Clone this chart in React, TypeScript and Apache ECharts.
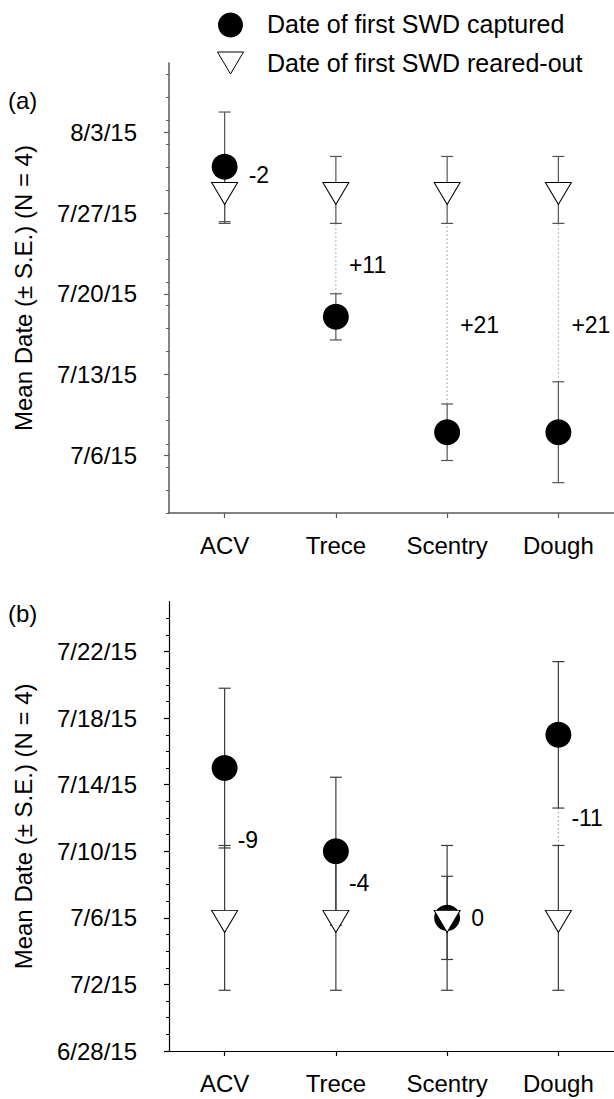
import { useEffect, useRef } from 'react';
import * as echarts from 'echarts';

// ---------- data ----------
const categories = ['ACV', 'Trece', 'Scentry', 'Dough'];

// Panel (a)
const capturedA = ['7/31/15', '7/18/15', '7/8/15', '7/8/15'];
const capturedSeA = [4.75, 2.0, 2.45, 4.37]; // days
const rearedA = ['7/29/15', '7/29/15', '7/29/15', '7/29/15'];
const rearedSeA = [2.9, 2.9, 2.9, 2.9];
const diffLabelAtA = ['7/30/15 07h', '7/22/15 12h', '7/17/15 07h', '7/17/15 07h'];
const tickLabelsA = ['7/6/15', '7/13/15', '7/20/15', '7/27/15', '8/3/15'];
const rangeA = ['7/1/15', '8/9/15'];

// Panel (b)
const capturedB = ['7/15/15', '7/10/15', '7/6/15', '7/17/15'];
const capturedSeB = [4.8, 4.45, 2.5, 4.4];
const rearedB = ['7/6/15', '7/6/15', '7/6/15', '7/6/15'];
const rearedSeB = [4.35, 4.35, 4.35, 4.35];
const diffLabelAtB = ['7/10/15 17h', '7/8/15 02h', '7/6/15', '7/12/15'];
const tickLabelsB = ['6/28/15', '7/2/15', '7/6/15', '7/10/15', '7/14/15', '7/18/15', '7/22/15'];
const rangeB = ['6/28/15', '7/25/15'];

// ---------- helpers ----------
const BASE = Date.UTC(2015, 5, 30);
function dayNum(s: string): number {
  const [datePart, hourPart] = s.split(' ');
  const [m, d, y] = datePart.split('/').map(Number);
  const h = hourPart ? parseInt(hourPart, 10) : 0;
  return (Date.UTC(2000 + y, m - 1, d) - BASE) / 86400000 + h / 24;
}
function fmt(v: number): string {
  const dt = new Date(BASE + Math.round(v) * 86400000);
  return `${dt.getUTCMonth() + 1}/${dt.getUTCDate()}/${String(dt.getUTCFullYear()).slice(2)}`;
}
function range(a: number, b: number, step: number): number[] {
  const out: number[] = [];
  for (let v = a; v <= b + 1e-9; v += step) out.push(v);
  return out;
}

const FONT = "'Liberation Sans', Arial, Helvetica, sans-serif";

type Panel = {
  captured: string[]; capturedSe: number[]; reared: string[]; rearedSe: number[];
  labelAt: string[]; ticks: string[]; range: string[]; minorStep: number;
  axisColor: string; axisWidth: number; barColor: string;
};

const panels: Panel[] = [
  { captured: capturedA, capturedSe: capturedSeA, reared: rearedA, rearedSe: rearedSeA, labelAt: diffLabelAtA,
    ticks: tickLabelsA, range: rangeA, minorStep: 2, axisColor: '#5a5a5a', axisWidth: 1.5, barColor: '#555' },
  { captured: capturedB, capturedSe: capturedSeB, reared: rearedB, rearedSe: rearedSeB, labelAt: diffLabelAtB,
    ticks: tickLabelsB, range: rangeB, minorStep: 1, axisColor: '#000', axisWidth: 1.2, barColor: '#3c3c3c' },
];

const grids = [
  { left: 169, top: 63, width: 449, height: 450 },
  { left: 169, top: 601.7, width: 449, height: 449.3 },
];

const TRI = 'path://M0,0 L26,0 L13,22 Z';

function buildOption() {
  const xAxis: any[] = [];
  const yAxis: any[] = [];
  const series: any[] = [];

  panels.forEach((p, k) => {
    const lo = dayNum(p.range[0]);
    const hi = dayNum(p.range[1]);
    const major = p.ticks.map(dayNum);
    const minor = range(lo, hi - 0.5, p.minorStep);
    const axisLine = { show: true, lineStyle: { color: p.axisColor, width: p.axisWidth } };

    xAxis.push({
      type: 'category', gridIndex: k, data: categories, boundaryGap: true,
      axisLine: { show: true, onZero: false, lineStyle: { color: p.axisColor, width: p.axisWidth } },
      axisTick: { show: true, alignWithLabel: true, length: 5, inside: false, lineStyle: { color: p.axisColor, width: 1.2 } },
      axisLabel: { fontSize: 24, color: '#000', margin: 20, fontFamily: FONT },
      splitLine: { show: false },
    });
    yAxis.push({
      type: 'value', gridIndex: k, min: lo, max: hi, position: 'left',
      axisLine,
      axisTick: { show: true, length: 5, inside: false, customValues: major, lineStyle: { color: p.axisColor, width: 1.2 } },
      axisLabel: { show: true, customValues: major, formatter: (v: number) => fmt(v), fontSize: 24, color: '#000', margin: 32, fontFamily: FONT },
      splitLine: { show: false },
      name: 'Mean Date (± S.E.) (N = 4)', nameLocation: 'middle', nameGap: 134,
      nameTextStyle: { fontSize: 24, color: '#000', fontFamily: FONT },
    });
    yAxis.push({
      type: 'value', gridIndex: k, min: lo, max: hi, position: 'left', offset: 0,
      axisLine: { show: false },
      axisTick: { show: true, length: 3, inside: false, customValues: minor, lineStyle: { color: p.axisColor, width: 1 } },
      axisLabel: { show: false },
      splitLine: { show: false },
    });

    const yIdx = k * 2;
    const cap = categories.map((_, i) => dayNum(p.captured[i]));
    const rea = categories.map((_, i) => dayNum(p.reared[i]));

    // error bars
    const bars: number[][] = [];
    categories.forEach((_, i) => {
      bars.push([i, rea[i] - p.rearedSe[i], rea[i] + p.rearedSe[i]]);
      bars.push([i, cap[i] - p.capturedSe[i], cap[i] + p.capturedSe[i]]);
    });
    series.push({
      type: 'custom', xAxisIndex: k, yAxisIndex: yIdx, z: 2, silent: true,
      encode: { x: 0, y: [1, 2] },
      data: bars,
      renderItem: (params: any, api: any) => {
        const x = api.value(0);
        const a = api.coord([x, api.value(1)]);
        const b = api.coord([x, api.value(2)]);
        const st = { stroke: p.barColor, lineWidth: 1.2 };
        const h = 6;
        return {
          type: 'group',
          children: [
            { type: 'line', shape: { x1: a[0], y1: a[1], x2: b[0], y2: b[1] }, style: st },
            { type: 'line', shape: { x1: a[0] - h, y1: a[1], x2: a[0] + h, y2: a[1] }, style: st },
            { type: 'line', shape: { x1: b[0] - h, y1: b[1], x2: b[0] + h, y2: b[1] }, style: st },
          ],
        };
      },
    });

    // dotted connectors between non-overlapping bars
    const gaps: number[][] = [];
    categories.forEach((_, i) => {
      const cLo = cap[i] - p.capturedSe[i], cHi = cap[i] + p.capturedSe[i];
      const rLo = rea[i] - p.rearedSe[i], rHi = rea[i] + p.rearedSe[i];
      if (cHi < rLo) gaps.push([i, cHi, rLo]);
      else if (rHi < cLo) gaps.push([i, rHi, cLo]);
    });
    series.push({
      type: 'custom', xAxisIndex: k, yAxisIndex: yIdx, z: 1, silent: true,
      encode: { x: 0, y: [1, 2] },
      data: gaps,
      renderItem: (params: any, api: any) => {
        const x = api.value(0);
        const a = api.coord([x, api.value(1)]);
        const b = api.coord([x, api.value(2)]);
        return {
          type: 'line', shape: { x1: a[0], y1: a[1], x2: b[0], y2: b[1] },
          style: { stroke: '#9a9a9a', lineWidth: 1, lineDash: [1.5, 2.5] },
        };
      },
    });

    series.push({
      type: 'scatter', name: 'Date of first SWD captured', xAxisIndex: k, yAxisIndex: yIdx, z: 3,
      symbol: 'circle', symbolSize: 26,
      itemStyle: { color: '#000', opacity: 1 },
      data: cap.map((v, i) => [i, v]),
    });
    series.push({
      type: 'scatter', name: 'Date of first SWD reared-out', xAxisIndex: k, yAxisIndex: yIdx, z: 4,
      symbol: TRI, symbolSize: [26, 22], symbolKeepAspect: false, symbolOffset: [0, 3.5],
      itemStyle: { color: '#fff', borderColor: '#000', borderWidth: 1, opacity: 1 },
      data: rea.map((v, i) => [i, v]),
    });

    // difference labels (reared-out minus captured)
    const labels = categories.map((_, i) => {
      const d = Math.round(rea[i] - cap[i]);
      return [i, dayNum(p.labelAt[i]), d];
    });
    series.push({
      type: 'custom', xAxisIndex: k, yAxisIndex: yIdx, z: 5, silent: true,
      encode: { x: 0, y: 1 },
      data: labels,
      renderItem: (params: any, api: any) => {
        const i = api.value(0);
        const pt = api.coord([i, api.value(1)]);
        const d = api.value(2);
        const pc = api.coord([i, cap[i]]);
        const pr = api.coord([i, rea[i]]);
        const near = Math.abs(pt[1] - pc[1]) < 14 || Math.abs(pt[1] - pr[1]) < 14;
        const txt = d > 0 ? `+${d}` : `${d}`;
        return {
          type: 'text', x: pt[0] + (near ? 24 : 13), y: pt[1],
          style: { text: txt, fontSize: 23, fill: '#000', align: 'left', verticalAlign: 'middle', fontFamily: FONT },
        };
      },
    });
  });

  const graphic: any[] = [
    { type: 'circle', shape: { cx: 230.5, cy: 25, r: 12.5 }, style: { fill: '#000' } },
    { type: 'polygon', shape: { points: [[217.5, 52], [243.5, 52], [230.5, 74]] }, style: { fill: '#fff', stroke: '#000', lineWidth: 1 } },
    { type: 'text', x: 267, y: 24, style: { text: 'Date of first SWD captured', fontSize: 25, fill: '#000', verticalAlign: 'middle', fontFamily: FONT } },
    { type: 'text', x: 267, y: 63, style: { text: 'Date of first SWD reared-out', fontSize: 25, fill: '#000', verticalAlign: 'middle', fontFamily: FONT } },
    { type: 'text', x: 8, y: 100, style: { text: '(a)', fontSize: 24, fill: '#000', verticalAlign: 'middle', fontFamily: FONT } },
    { type: 'text', x: 8, y: 613, style: { text: '(b)', fontSize: 24, fill: '#000', verticalAlign: 'middle', fontFamily: FONT } },
  ];

  return {
    animation: false,
    backgroundColor: '#fff',
    textStyle: { fontFamily: FONT },
    grid: grids,
    xAxis,
    yAxis,
    series,
    graphic,
  };
}

export default function App() {
  const ref = useRef<HTMLDivElement>(null);
  useEffect(() => {
    if (!ref.current) return;
    const chart = echarts.init(ref.current, undefined, { renderer: 'svg' });
    chart.setOption(buildOption() as any);
    return () => chart.dispose();
  }, []);
  return <div ref={ref} style={{ position: 'absolute', left: 0, top: 0, width: 614, height: 1099, background: '#fff' }} />;
}
